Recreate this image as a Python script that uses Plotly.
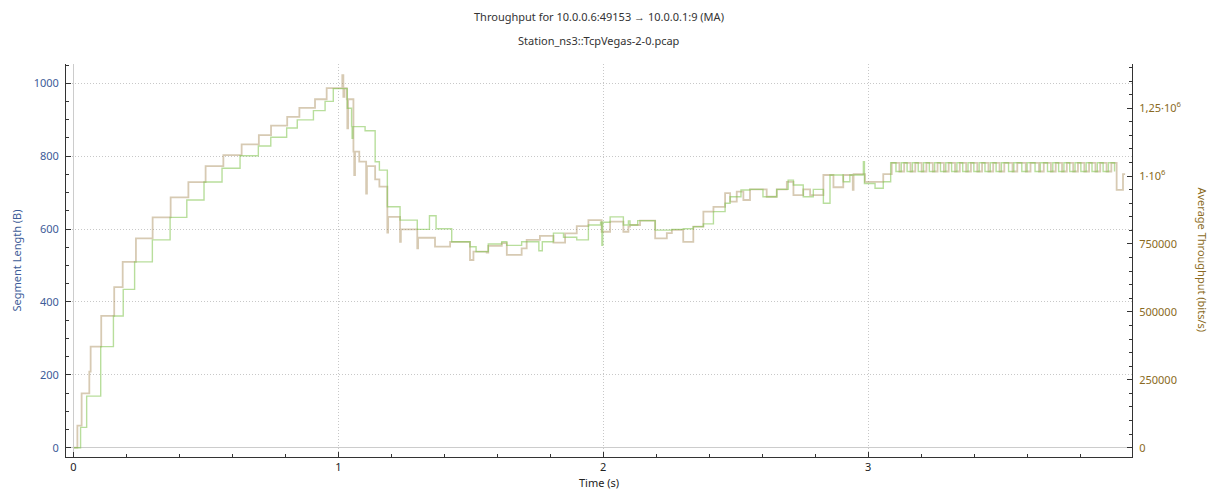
import plotly.graph_objects as go

# ---------------- data ----------------
title_line1 = "Throughput for 10.0.0.6:49153 → 10.0.0.1:9 (MA)"
title_line2 = "Station_ns3::TcpVegas-2-0.pcap"

x_ticks = [0, 1, 2, 3]
seg_ticks = [0, 200, 400, 600, 800, 1000]
thr_ticks = [0, 250000, 500000, 750000, 1000000, 1250000]
thr_ticktext = ["0", "250000", "500000", "750000", "1·10<sup>6</sup>", "1,25·10<sup>6</sup>"]

# Throughput (MA) – brown series, bits/s
thr_time = [
    0.002, 0.015, 0.031, 0.060, 0.065, 0.105, 0.154, 0.186, 0.236, 0.299,
    0.367, 0.434, 0.499, 0.566, 0.635, 0.700, 0.746, 0.807, 0.853, 0.912,
    0.956, 1.015, 1.019, 1.023, 1.032, 1.034, 1.037, 1.057, 1.060, 1.063,
    1.079, 1.105, 1.108, 1.139, 1.155, 1.185, 1.188, 1.233, 1.236, 1.298,
    1.301, 1.365, 1.422, 1.497, 1.510, 1.560, 1.566, 1.617, 1.636, 1.692,
    1.711, 1.761, 1.812, 1.856, 1.900, 1.944, 1.994, 2.026, 2.076, 2.095,
    2.101, 2.139, 2.196, 2.240, 2.259, 2.302, 2.340, 2.343, 2.378, 2.416,
    2.460, 2.479, 2.504, 2.529, 2.554, 2.617, 2.655, 2.693, 2.718, 2.755,
    2.781, 2.831, 2.869, 2.906, 2.942, 2.945, 2.988, 3.057,
    3.089, 3.118, 3.136, 3.160, 3.178, 3.202, 3.220, 3.244, 3.262, 3.286,
    3.304, 3.328, 3.346, 3.370, 3.388, 3.412, 3.430, 3.454, 3.472, 3.496,
    3.514, 3.545, 3.563, 3.595, 3.613, 3.645, 3.663, 3.690, 3.708, 3.732,
    3.750, 3.774, 3.792, 3.816, 3.834, 3.858, 3.876, 3.900, 3.918, 3.938,
    3.962, 3.970,
]
thr_value = [
    0, 81000, 200000, 280000, 372000, 485000, 591000, 684000, 771000, 848000,
    922000, 978000, 1037000, 1077000, 1117000, 1151000, 1186000, 1218000, 1251000, 1283000,
    1324000, 1372000, 1292000, 1324000, 1283000, 1176000, 1283000, 1090000, 1004000, 1090000,
    1053000, 936000, 1037000, 988000, 961000, 792000, 850000, 758000, 804000, 734000,
    773000, 740000, 758000, 691000, 722000, 718000, 743000, 753000, 710000, 734000,
    765000, 780000, 755000, 789000, 816000, 838000, 795000, 832000, 795000, 814000,
    820000, 836000, 771000, 790000, 802000, 758000, 814000, 814000, 869000, 887000,
    937000, 906000, 943000, 912000, 951000, 924000, 951000, 979000, 930000, 951000,
    930000, 1004000, 959000, 1004000, 949000, 1007000, 979000, 1007000,
    1049000, 1017000, 1049000, 1017000, 1049000, 1017000, 1049000, 1017000, 1049000, 1017000,
    1049000, 1017000, 1049000, 1017000, 1049000, 1017000, 1049000, 1017000, 1049000, 1017000,
    1049000, 1017000, 1049000, 1017000, 1049000, 1017000, 1049000, 1017000, 1049000, 1017000,
    1049000, 1017000, 1049000, 1017000, 1049000, 1017000, 1049000, 1017000, 1049000, 949000,
    1007000, 1007000,
]

# Goodput (MA) – green series, bits/s
good_time = [
    0.002, 0.027, 0.050, 0.103, 0.151, 0.188, 0.231, 0.298, 0.365, 0.428,
    0.493, 0.561, 0.629, 0.698, 0.745, 0.805, 0.845, 0.906, 0.950, 0.981,
    1.034, 1.050, 1.052, 1.055, 1.101, 1.139, 1.155, 1.185, 1.233, 1.298,
    1.344, 1.369, 1.428, 1.497, 1.520, 1.566, 1.617, 1.636, 1.692, 1.757,
    1.770, 1.812, 1.850, 1.900, 1.944, 1.990, 1.995, 1.998, 2.026, 2.076,
    2.095, 2.101, 2.130, 2.196, 2.259, 2.302, 2.340, 2.378, 2.416, 2.460,
    2.479, 2.520, 2.554, 2.603, 2.655, 2.698, 2.718, 2.755, 2.793, 2.831,
    2.856, 2.906, 2.931, 2.982, 2.986, 3.026, 3.057,
    3.085, 3.105, 3.125, 3.147, 3.167, 3.189, 3.209, 3.231, 3.251, 3.273,
    3.293, 3.315, 3.335, 3.357, 3.377, 3.399, 3.419, 3.441, 3.461, 3.483,
    3.503, 3.530, 3.550, 3.580, 3.600, 3.630, 3.650, 3.677, 3.697, 3.719,
    3.739, 3.761, 3.781, 3.803, 3.823, 3.845, 3.865, 3.887, 3.907, 3.930,
]
good_value = [
    0, 75000, 190000, 372000, 485000, 583000, 684000, 765000, 848000, 912000,
    978000, 1029000, 1075000, 1111000, 1143000, 1177000, 1207000, 1241000, 1275000, 1322000,
    1250000, 1182000, 1139000, 1182000, 1167000, 1053000, 1022000, 887000, 838000, 804000,
    854000, 806000, 758000, 740000, 722000, 750000, 758000, 745000, 758000, 725000,
    758000, 790000, 775000, 765000, 820000, 830000, 745000, 830000, 850000, 820000,
    835000, 820000, 836000, 801000, 804000, 806000, 814000, 824000, 869000, 900000,
    924000, 949000, 951000, 924000, 951000, 985000, 967000, 924000, 951000, 900000,
    1004000, 979000, 1004000, 1053000, 973000, 955000, 979000,
    1049000, 1017000, 1049000, 1017000, 1049000, 1017000, 1049000, 1017000, 1049000, 1017000,
    1049000, 1017000, 1049000, 1017000, 1049000, 1017000, 1049000, 1017000, 1049000, 1017000,
    1049000, 1017000, 1049000, 1017000, 1049000, 1017000, 1049000, 1017000, 1049000, 1017000,
    1049000, 1017000, 1049000, 1017000, 1049000, 1017000, 1049000, 1017000, 1049000, 1017000,
]

# ---------------- figure ----------------
FONT = "Noto Sans"
BLUE = "#3d5c98"
OLIVE = "#8a6a22"
AXIS = "#333333"
GRID = "#c8c8c8"
GRIDDASH = "1px,2px"

fig = go.Figure()

# keeps the primary (segment length) axis alive
fig.add_trace(go.Scatter(x=[], y=[], yaxis="y", showlegend=False, hoverinfo="skip"))

fig.add_trace(go.Scatter(
    x=thr_time, y=thr_value, yaxis="y2", mode="lines", line_shape="hv",
    line=dict(color="rgba(150,115,55,0.38)", width=1.8), showlegend=False,
    name="Throughput",
))
fig.add_trace(go.Scatter(
    x=good_time, y=good_value, yaxis="y2", mode="lines", line_shape="hv",
    line=dict(color="rgba(125,195,75,0.55)", width=1.4), showlegend=False,
    name="Goodput",
))

# the page body has an 8px default margin: size/margins compensate for it
fig.update_layout(
    width=1213, height=484,
    margin=dict(l=58, r=89, t=56, b=35),
    paper_bgcolor="white", plot_bgcolor="white",
    font=dict(family=FONT, size=11, color="#222222"),
    xaxis=dict(
        range=[-0.028, 3.996], tickvals=x_ticks, ticks="inside", ticklen=5,
        tickcolor=AXIS, showline=True, linecolor=AXIS, linewidth=1,
        showgrid=True, gridcolor=GRID, griddash=GRIDDASH, gridwidth=1,
        zeroline=True, zerolinecolor="#cccccc", zerolinewidth=1,
        minor=dict(dtick=0.2, ticks="inside", ticklen=3, tickcolor=AXIS, showgrid=False),
        tickfont=dict(size=11, color="#222222"),
    ),
    yaxis=dict(
        range=[-25.5, 1053], tickvals=seg_ticks, ticks="inside", ticklen=5,
        tickcolor=AXIS, showline=True, linecolor=AXIS, linewidth=1,
        showgrid=True, gridcolor=GRID, griddash=GRIDDASH, gridwidth=1,
        zeroline=True, zerolinecolor="#cccccc", zerolinewidth=1,
        minor=dict(dtick=50, ticks="inside", ticklen=3, tickcolor=AXIS, showgrid=False),
        tickfont=dict(size=11, color=BLUE), ticklabelstandoff=4,
    ),
    yaxis2=dict(
        overlaying="y", side="right", range=[-34240, 1412700],
        tickvals=thr_ticks, ticktext=thr_ticktext, ticks="inside", ticklen=5,
        tickcolor=AXIS, showline=True, linecolor=AXIS, linewidth=1,
        showgrid=False, zeroline=False,
        minor=dict(dtick=50000, ticks="inside", ticklen=3, tickcolor=AXIS, showgrid=False),
        tickfont=dict(size=11, color=OLIVE), ticklabelstandoff=4,
    ),
    annotations=[
        dict(text=title_line1, xref="paper", yref="paper", x=0.5, y=1.122,
             showarrow=False, xanchor="center", yanchor="middle",
             font=dict(size=11, color="#333333")),
        dict(text=title_line2, xref="paper", yref="paper", x=0.5, y=1.061,
             showarrow=False, xanchor="center", yanchor="middle",
             font=dict(size=11, color="#333333")),
        dict(text="Time (s)", xref="paper", yref="paper", x=0.5, y=-0.066,
             showarrow=False, xanchor="center", yanchor="middle",
             font=dict(size=11, color="#222222")),
        dict(text="Segment Length (B)", xref="paper", yref="paper", x=-0.046, y=0.5,
             showarrow=False, xanchor="center", yanchor="middle", textangle=-90,
             font=dict(size=11, color=BLUE)),
        dict(text="Average Throughput (bits/s)", xref="paper", yref="paper", x=1.0666, y=0.5,
             showarrow=False, xanchor="center", yanchor="middle", textangle=90,
             font=dict(size=11, color=OLIVE)),
    ],
)

fig.write_html("out.html")
